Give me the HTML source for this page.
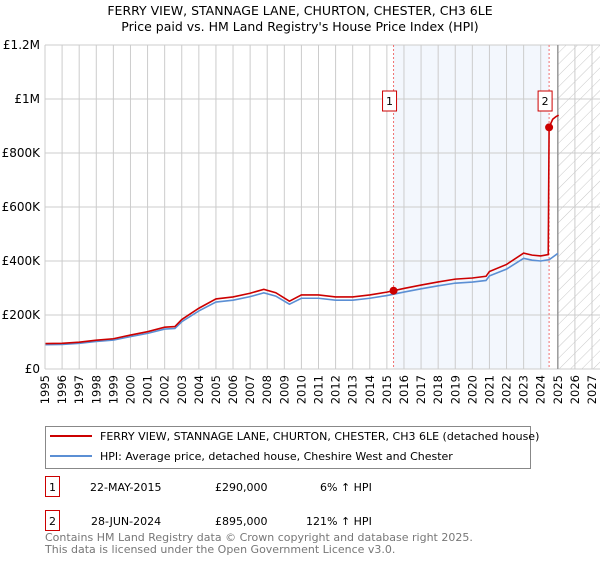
<!DOCTYPE html>
<html><head><meta charset="utf-8"><style>
body{margin:0;background:#fff;font-family:"Liberation Sans","DejaVu Sans",sans-serif;}
svg text{font-family:"DejaVu Sans","Liberation Sans",sans-serif;}
</style></head><body>
<svg id="chart" width="600" height="560" viewBox="0 0 600 560" xmlns="http://www.w3.org/2000/svg">
<defs><pattern id="hatch" patternUnits="userSpaceOnUse" width="8" height="8" patternTransform="rotate(45)"><line x1="0" y1="0" x2="0" y2="8" stroke="#bbb" stroke-width="0.8"/></pattern></defs>
<text x="300" y="15" text-anchor="middle" font-size="12.5">FERRY VIEW, STANNAGE LANE, CHURTON, CHESTER, CH3 6LE</text>
<text x="300" y="31" text-anchor="middle" font-size="12.5">Price paid vs. HM Land Registry's House Price Index (HPI)</text>
<g id="plot"></g>
<g>
<rect x="45.5" y="426.5" width="485" height="42" fill="#fff" stroke="#888"/>
<line x1="50" y1="436" x2="92" y2="436" stroke="#cc0000" stroke-width="2"/>
<text x="100" y="440" font-size="11">FERRY VIEW, STANNAGE LANE, CHURTON, CHESTER, CH3 6LE (detached house)</text>
<line x1="50" y1="456" x2="92" y2="456" stroke="#5b8fd4" stroke-width="2"/>
<text x="100" y="460" font-size="11">HPI: Average price, detached house, Cheshire West and Chester</text>
</g>
<g font-size="11">
<rect x="45.5" y="476.5" width="14" height="20" fill="#fff" stroke="#cc0000"/>
<text x="52.5" y="491" text-anchor="middle">1</text>
<text x="90" y="491">22-MAY-2015</text><text x="215" y="491">£290,000</text><text x="320" y="491">6% ↑ HPI</text>
</g>
<g font-size="11">
<rect x="45.5" y="510.5" width="14" height="20" fill="#fff" stroke="#cc0000"/>
<text x="52.5" y="525" text-anchor="middle">2</text>
<text x="91" y="525">28-JUN-2024</text><text x="215" y="525">£895,000</text><text x="306" y="525">121% ↑ HPI</text>
</g>
<text x="45" y="541" font-size="11" fill="#777">Contains HM Land Registry data © Crown copyright and database right 2025.</text>
<text x="45" y="553" font-size="11" fill="#777">This data is licensed under the Open Government Licence v3.0.</text>
</svg>
<script>
const hpiYears=[1995,1996,1997,1998,1999,2000,2001,2002,2002.6,2003,2004,2005,2006,2007,2007.8,2008.5,2009.3,2010,2011,2012,2013,2014,2015,2016,2017,2018,2019,2020,2020.8,2021,2022,2023,2023.5,2024,2024.5,2025];
const hpiValues=[90000,91000,95000,102000,107000,120000,132000,148000,150000,175000,215000,248000,255000,268000,282000,270000,240000,262000,262000,255000,255000,262000,272000,285000,297000,308000,318000,322000,328000,345000,370000,410000,403000,400000,405000,428000];
const sales=[{year:2015.39,value:290000,label:"1"},{year:2024.49,value:895000,label:"2"}];
const redAfterYears=[2024.49,2024.7,2024.9,2025.05];
const redAfterValues=[895000,925000,935000,940000];
const yTicks=[0,200000,400000,600000,800000,1000000,1200000];
const yTickLabels=["£0","£200K","£400K","£600K","£800K","£1M","£1.2M"];
const xTicks=[1995,1996,1997,1998,1999,2000,2001,2002,2003,2004,2005,2006,2007,2008,2009,2010,2011,2012,2013,2014,2015,2016,2017,2018,2019,2020,2021,2022,2023,2024,2025,2026,2027];

const X0=45,X1=592,Y0=369,Y1=45;
const xs=y=>X0+(y-1995)/(2027-1995)*(X1-X0);
const ys=v=>Y0-v/1200000*(Y0-Y1);
const NS="http://www.w3.org/2000/svg";
const g=document.getElementById('plot');
function mk(t,a){const e=document.createElementNS(NS,t);for(const k in a)e.setAttribute(k,a[k]);g.appendChild(e);return e;}
let e;
e=mk('rect',{x:xs(sales[0].year),y:Y1,width:xs(sales[1].year)-xs(sales[0].year),height:Y0-Y1,fill:'#eef3fc',opacity:0.7});


e=mk('rect',{x:xs(2025.0),y:Y1,width:600-xs(2025.0),height:Y0-Y1,fill:'url(#hatch)'});


xTicks.forEach(t=>{
 e=mk('line',{x1:xs(t),x2:xs(t),y1:Y1,y2:Y0,stroke:'#ccc','stroke-width':1});
 
 
 e=mk('text',{x:0,y:0,'font-size':11.5,'text-anchor':'end',transform:`translate(${xs(t)+4},${Y0+6}) rotate(-90)`});
 e.textContent=t;
 
 
});
yTicks.forEach((t,i)=>{
 e=mk('line',{x1:X0,x2:600,y1:ys(t),y2:ys(t),stroke:'#ccc','stroke-width':1});
 
 
 e=mk('text',{x:X0-5,y:ys(t)+4,'font-size':12,'text-anchor':'end'});
 e.textContent=yTickLabels[i];
 
 
});
e=mk('line',{x1:xs(2025.0),x2:xs(2025.0),y1:Y1,y2:Y0,stroke:'#999','stroke-width':1.5});


sales.forEach(s=>{
 e=mk('line',{x1:xs(s.year),x2:xs(s.year),y1:Y1,y2:Y0,stroke:'#f07070','stroke-width':1,'stroke-dasharray':'2,2'});
 
 
});
// HPI line
const hp=hpiYears.map((y,i)=>`${xs(y)},${ys(hpiValues[i])}`).join(' ');
e=mk('polyline',{points:hp,fill:'none',stroke:'#5b8fd4','stroke-width':1.6});


// Red line: HPI scaled by sale1 ratio until sale2
function hpiAt(y){for(let i=1;i<hpiYears.length;i++){if(y<=hpiYears[i]){const f=(y-hpiYears[i-1])/(hpiYears[i]-hpiYears[i-1]);return hpiValues[i-1]+f*(hpiValues[i]-hpiValues[i-1]);}}return hpiValues[hpiValues.length-1];}
const ratio=sales[0].value/hpiAt(sales[0].year);
let rp=[];
hpiYears.forEach((y,i)=>{if(y<sales[1].year)rp.push(`${xs(y)},${ys(hpiValues[i]*ratio)}`);});
rp.push(`${xs(sales[1].year-0.05)},${ys(hpiAt(sales[1].year)*ratio)}`);
redAfterYears.forEach((y,i)=>rp.push(`${xs(y)},${ys(redAfterValues[i])}`));
e=mk('polyline',{points:rp.join(' '),fill:'none',stroke:'#cc0000','stroke-width':1.6});


sales.forEach(s=>{
 e=mk('circle',{cx:xs(s.year),cy:ys(s.value),r:4,fill:'#cc0000'});
 
 
 e=mk('rect',{x:xs(s.year)-11,y:91,width:14,height:20,fill:'#fff',stroke:'#cc0000'});
 
 
 e=mk('text',{x:xs(s.year)-4,y:105,'font-size':11,'text-anchor':'middle'});
 e.textContent=s.label;
 
 
});
e=mk('line',{x1:X0,x2:X0,y1:Y1,y2:Y0,stroke:'#ccc'});
</script>
</body></html>
